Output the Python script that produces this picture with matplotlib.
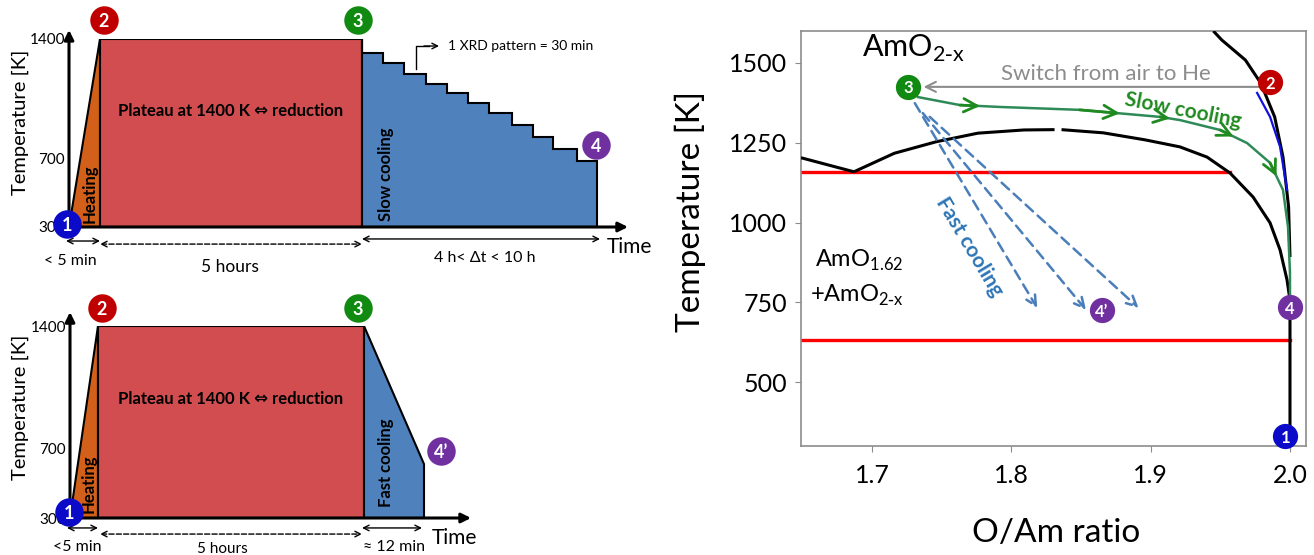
import matplotlib
matplotlib.use('Agg')
import matplotlib.pyplot as plt

plt.rcParams['font.family'] = ['Lato', 'DejaVu Sans']

# ---------------- data ----------------
T_room = 300
T_plateau = 1400

# schedule with slow cooling (schematic time units)
slow_t_heat = 31
slow_t_plateau_end = 293
slow_step_edges = [293, 314, 335, 357, 378, 399, 420, 443, 464, 484, 508, 528]
slow_step_T = [1316, 1258, 1195, 1135, 1082, 1027, 965, 897, 825, 756, 686]

# schedule with fast cooling
fast_t_heat = 28
fast_t_plateau_end = 294
fast_t_end = 354
fast_T_end = 609

# phase diagram (O/Am ratio, temperature K)
left_branch_x = [1.649, 1.687]
left_branch_T = [1203, 1159]
dome_left_x = [1.687, 1.716, 1.746, 1.776, 1.809, 1.831]
dome_left_T = [1159, 1217, 1253, 1280, 1290, 1291]
dome_right_x = [1.836, 1.866, 1.896, 1.921, 1.9405, 1.957, 1.9735, 1.9857, 1.9929, 1.9979, 2.0, 2.0]
dome_right_T = [1291, 1281, 1259, 1237, 1205, 1155, 1080, 999, 914, 820, 757, 300]
upper_x = [1.945, 1.951, 1.968, 1.979, 1.989, 1.995, 1.999, 2.0]
upper_T = [1600, 1572, 1509, 1437, 1331, 1205, 1049, 892]
blue_x = [1.9764, 1.9857, 1.9929, 1.9979]
blue_T = [1406, 1331, 1237, 1102]
slow_x = [1.733, 1.763, 1.792, 1.849, 1.9067, 1.921, 1.9498, 1.9692, 1.9857, 1.995, 1.9986, 2.0, 2.0]
slow_T = [1393, 1368, 1362, 1353, 1331, 1321, 1290, 1249, 1187, 1102, 986, 842, 770]
slow_arrow_idx = [1, 3, 4, 6, 8]
eutectoid_T = 1157
eutectoid_x = [1.649, 1.957]
low_T = 632
low_x = [1.649, 2.0]
fast_start = [(1.7307, 1374), (1.7364, 1343), (1.7414, 1331)]
fast_end = [(1.8186, 732), (1.8536, 726), (1.8914, 732)]
switch_from = (1.978, 1425)
switch_to = (1.737, 1425)

pts_right = {'1': (1.9967, 331), '2': (1.9857, 1440), '3': (1.7257, 1425),
             '4': (2.0, 735), '4\u2019': (1.865, 725)}
circle_col = {'1': '#0a0ac8', '2': '#c00000', '3': '#108a10', '4': '#7030a0', '4\u2019': '#7030a0'}

heat_col = '#d2601a'
plat_col = '#d24d4f'
cool_col = '#4f81bd'

W, H = 1314, 555
fig = plt.figure(figsize=(W / 100, H / 100), dpi=100)


def px_axes(x0, y0, x1, y1):
    return fig.add_axes([x0 / W, 1 - y1 / H, (x1 - x0) / W, (y1 - y0) / H])


def circle(ax, x, y, lab, s=330, fs=12):
    ax.scatter([x], [y], s=s, c=circle_col[lab], zorder=20, clip_on=False, linewidths=0)
    ax.text(x, y, lab, color='white', fontweight='bold', fontsize=fs, ha='center',
            va='center_baseline', zorder=21, clip_on=False)


def darrow(ax, x0, x1, y, ls='-'):
    ax.annotate('', xy=(x1, y), xytext=(x0, y), annotation_clip=False,
                arrowprops=dict(arrowstyle='<->', lw=1, ls=ls, color='black',
                                shrinkA=0, shrinkB=0, mutation_scale=10))


def schedule_axes(ax, t_heat, t_plat, x_end, top):
    ax.set_xlim(0, x_end)
    ax.set_ylim(T_room, T_plateau)
    for s in ax.spines.values():
        s.set_visible(False)
    ax.set_xticks([])
    ax.set_yticks([300, 700, 1400])
    ax.set_yticklabels(['300', '700', '1400'], fontsize=11)
    ax.tick_params(axis='y', length=0, pad=3)
    ax.patch.set_alpha(0)
    ax.fill([0, t_heat, t_heat], [T_room, T_plateau, T_room], color=heat_col, ec='black', lw=1.5, zorder=2)
    ax.fill([t_heat, t_plat, t_plat, t_heat], [T_room, T_room, T_plateau, T_plateau],
            color=plat_col, ec='black', lw=1.5, zorder=2)
    ax.annotate('', xy=(0, top), xytext=(0, T_room), annotation_clip=False,
                arrowprops=dict(arrowstyle='-|>', lw=2.2, color='black', shrinkA=0, shrinkB=0,
                                mutation_scale=14))
    ax.annotate('', xy=(x_end, T_room), xytext=(0, T_room), annotation_clip=False,
                arrowprops=dict(arrowstyle='-|>', lw=2.2, color='black', shrinkA=0, shrinkB=0,
                                mutation_scale=14))
    ax.text((t_heat + t_plat) / 2, 980, 'Plateau at 1400 K \u21d4 reduction', fontsize=12,
            fontweight='bold', ha='center', va='center', zorder=5)
    ax.text(t_heat * 0.66, 497, 'Heating', rotation=90, fontsize=12, fontweight='bold',
            ha='center', va='center', zorder=5)


# ---------- top left: slow cooling schedule ----------
ax1 = px_axes(69, 39, 628, 227)
schedule_axes(ax1, slow_t_heat, slow_t_plateau_end, 559, 1453)
xs = [slow_step_edges[0], slow_step_edges[0]]
ys = [T_room, T_plateau]
for i, T in enumerate(slow_step_T):
    xs += [slow_step_edges[i], slow_step_edges[i + 1]]
    ys += [T, T]
xs.append(slow_step_edges[-1])
ys.append(T_room)
ax1.fill(xs, ys, color=cool_col, ec='black', lw=1.5, zorder=2)
ax1.text(slow_t_plateau_end + 24, 610, 'Slow cooling', rotation=90, fontsize=12,
         fontweight='bold', ha='center', va='center', zorder=5)
ax1.plot([347, 347, 360], [1224, 1359, 1359], color='black', lw=1, clip_on=False)
ax1.annotate('', xy=(370, 1359), xytext=(355, 1359), annotation_clip=False,
             arrowprops=dict(arrowstyle='->', lw=1, color='black', shrinkA=0, shrinkB=0))
ax1.text(379, 1359, '1 XRD pattern = 30 min', fontsize=10, ha='left', va='center')
darrow(ax1, -3, slow_t_heat, 218)
darrow(ax1, slow_t_heat, slow_t_plateau_end, 200, ls='--')
darrow(ax1, slow_t_plateau_end, slow_step_edges[-1] + 3, 230)
ax1.text(1, 101, '< 5 min', fontsize=11.5, ha='center', va='center')
ax1.text(161, 66, '5 hours', fontsize=12.5, ha='center', va='center')
ax1.text(416, 119, '4 h< \u0394t < 10 h', fontsize=11.5, ha='center', va='center')
ax1.text(538, 183, 'Time', fontsize=15, ha='left', va='center')
circle(ax1, -2, 318, '1', s=420, fs=13)
circle(ax1, 35, 1511, '2', s=420, fs=13)
circle(ax1, 289, 1511, '3', s=420, fs=13)
circle(ax1, 527, 780, '4', s=420, fs=13)
fig.text(20 / W, 1 - 122 / H, 'Temperature [K]', rotation=90, fontsize=14.5, ha='center', va='center')

# ---------- bottom left: fast cooling schedule ----------
ax2 = px_axes(70, 326, 471, 518)
schedule_axes(ax2, fast_t_heat, fast_t_plateau_end, 401, 1480)
ax2.fill([fast_t_plateau_end, fast_t_plateau_end, fast_t_end, fast_t_end],
         [T_room, T_plateau, fast_T_end, T_room], color=cool_col, ec='black', lw=1.5, zorder=2)
ax2.text(fast_t_plateau_end + 22, 615, 'Fast cooling', rotation=90, fontsize=12,
         fontweight='bold', ha='center', va='center', zorder=5)
darrow(ax2, -3, fast_t_heat, 243)
darrow(ax2, fast_t_heat + 2, fast_t_plateau_end - 2, 208, ls='--')
darrow(ax2, fast_t_plateau_end - 2, fast_t_end - 2, 243)
ax2.text(7, 134, '<5 min', fontsize=11.5, ha='center', va='center')
ax2.text(152, 124, '5 hours', fontsize=11, ha='center', va='center')
ax2.text(324, 134, '\u2248 12 min', fontsize=11.5, ha='center', va='center')
ax2.text(362, 185, 'Time', fontsize=15, ha='left', va='center')
circle(ax2, -1, 334, '1', s=420, fs=13)
circle(ax2, 32, 1503, '2', s=420, fs=13)
circle(ax2, 288, 1503, '3', s=420, fs=13)
circle(ax2, 371, 684, '4\u2019', s=420, fs=13)
fig.text(20 / W, 1 - 407 / H, 'Temperature [K]', rotation=90, fontsize=14.5, ha='center', va='center')

# ---------- right: phase diagram ----------
ax = px_axes(801, 31, 1306, 446)
ax.set_xlim(1.649, 2.0115)
ax.set_ylim(300, 1600)
for s in ax.spines.values():
    s.set_color('#8c8c8c')
    s.set_linewidth(1.2)
ax.set_xticks([1.7, 1.8, 1.9, 2.0])
ax.set_xticklabels(['1.7', '1.8', '1.9', '2.0'])
ax.set_yticks([500, 750, 1000, 1250, 1500])
ax.tick_params(length=4, color='#8c8c8c', labelsize=18, pad=6)
ax.tick_params(axis='x', pad=9)

ax.plot(eutectoid_x, [eutectoid_T] * 2, color='red', lw=2.4, zorder=2)
ax.plot(low_x, [low_T] * 2, color='red', lw=2.4, zorder=2)
for bx, bT in [(left_branch_x, left_branch_T), (dome_left_x, dome_left_T),
               (dome_right_x, dome_right_T), (upper_x, upper_T)]:
    ax.plot(bx, bT, color='black', lw=2.2, zorder=3, solid_capstyle='butt')
ax.plot(blue_x, blue_T, color='#1010e0', lw=1.6, zorder=3)

green = '#2e8b57'
ax.plot(slow_x, slow_T, color=green, lw=1.8, zorder=4)
for i in slow_arrow_idx:
    xm = (slow_x[i] + slow_x[i + 1]) / 2
    Tm = (slow_T[i] + slow_T[i + 1]) / 2
    ax.annotate('', xy=(xm, Tm), xytext=(slow_x[i], slow_T[i]),
                arrowprops=dict(arrowstyle='->', lw=2, color='#1f8a1f', shrinkA=0, shrinkB=0,
                                mutation_scale=24), zorder=5)

for (x0, T0), (x1, T1) in zip(fast_start, fast_end):
    ax.annotate('', xy=(x1, T1), xytext=(x0, T0),
                arrowprops=dict(arrowstyle='->', lw=1.8, ls=(0, (4, 2.5)), color='#4a7ebb',
                                shrinkA=0, shrinkB=0, mutation_scale=18), zorder=4)

ax.annotate('', xy=switch_to, xytext=switch_from,
            arrowprops=dict(arrowstyle='->', lw=1.5, color='#8c8c8c', shrinkA=0, shrinkB=0,
                            mutation_scale=18), zorder=4)
ax.text(1.868, 1446, 'Switch from air to He', color='#8c8c8c', fontsize=16, ha='center',
        va='baseline')
ax.text(1.923, 1352, 'Slow cooling', color='#1f8a1f', fontsize=15, fontweight='bold',
        rotation=-11, ha='center', va='center', rotation_mode='anchor')
ax.text(1.7696, 923, 'Fast cooling', color='#2e75b6', fontsize=15, fontweight='bold',
        rotation=-59, ha='center', va='center', rotation_mode='anchor')
ax.text(1.6928, 1519, 'AmO$_\\mathregular{2\\text{-}x}$', fontsize=22, ha='left', va='baseline')
ax.text(1.659, 861, 'AmO$_\\mathregular{1.62}$', fontsize=17, ha='left', va='baseline')
ax.text(1.6555, 751, '+AmO$_\\mathregular{2\\text{-}x}$', fontsize=17, ha='left', va='baseline')

for lab, (x, T) in pts_right.items():
    circle(ax, x, T, lab)

fig.text(690 / W, 1 - 212 / H, 'Temperature [K]', rotation=90, fontsize=24, ha='center', va='center')
fig.text(1056 / W, 1 - 533 / H, 'O/Am ratio', fontsize=24, ha='center', va='center')

fig.savefig('out.png', dpi=100)
